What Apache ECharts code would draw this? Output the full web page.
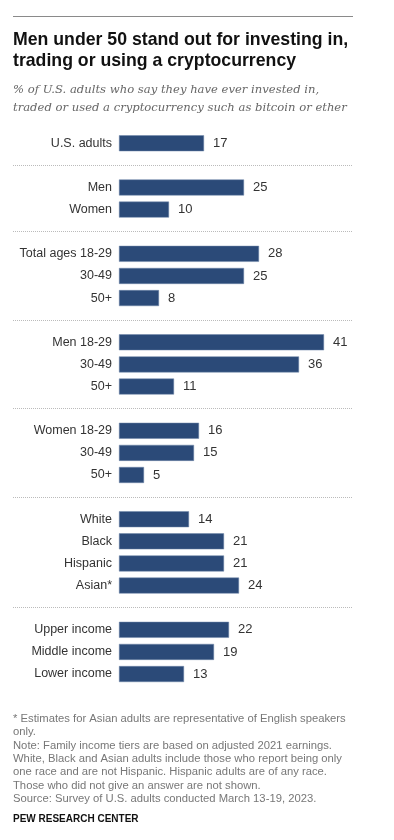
<!DOCTYPE html>
<html>
<head>
<meta charset="utf-8">
<script src="https://cdn.jsdelivr.net/npm/echarts@6/dist/echarts.min.js"></script>
<style>
html,body{margin:0;padding:0;background:#fff;}
#chart{width:394px;height:840px;}
</style>
</head>
<body>
<div id="chart"></div>
<script>
// Categories (empty strings mark group dividers)
const categories = [
  'U.S. adults', '',
  'Men', 'Women', '',
  'Total ages 18-29', '30-49', '50+', '',
  'Men 18-29', '30-49', '50+', '',
  'Women 18-29', '30-49', '50+', '',
  'White', 'Black', 'Hispanic', 'Asian*', '',
  'Upper income', 'Middle income', 'Lower income'
];
const values = [
  17, null,
  25, 10, null,
  28, 25, 8, null,
  41, 36, 11, null,
  16, 15, 5, null,
  14, 21, 21, 24, null,
  22, 19, 13
];
const dividerIndices = [1, 4, 8, 12, 16, 21];

const titleText = 'Men under 50 stand out for investing in,\ntrading or using a cryptocurrency';
const subtitleText = '% of U.S. adults who say they have ever invested in,\ntraded or used a cryptocurrency such as bitcoin or ether';
const noteText = '* Estimates for Asian adults are representative of English speakers\nonly.\nNote: Family income tiers are based on adjusted 2021 earnings.\nWhite, Black and Asian adults include those who report being only\none race and are not Hispanic. Hispanic adults are of any race.\nThose who did not give an answer are not shown.\nSource: Survey of U.S. adults conducted March 13-19, 2023.';
const sourceText = 'PEW RESEARCH CENTER';

const chart = echarts.init(document.getElementById('chart'), null, {renderer: 'canvas'});
const sans = 'Arial, "Liberation Sans", sans-serif';

const gridLeft = 13;
const xMin = -21.2;
const xMax = 46.8;
const gridWidth = 340;
// distance from grid left edge to the value-0 baseline, minus label gap
const zeroOffset = (0 - xMin) / (xMax - xMin) * gridWidth;

chart.setOption({
  animation: false,
  backgroundColor: '#ffffff',
  title: [
    {
      text: titleText, left: 13, top: 30, padding: 0,
      textStyle: {fontFamily: sans, fontWeight: 'bold', fontSize: 17.7, lineHeight: 21, color: '#111'}
    },
    {
      text: subtitleText, left: 13, top: 81.5, padding: 0,
      textStyle: {fontFamily: '"DejaVu Serif", serif', fontStyle: 'italic', fontWeight: 'normal', fontSize: 11.6, lineHeight: 17.5, color: '#666'}
    },
    {
      text: noteText, left: 13, top: 712, padding: 0,
      textStyle: {fontFamily: sans, fontWeight: 'normal', fontSize: 11.25, lineHeight: 13.4, color: '#777'}
    },
    {
      text: sourceText, left: 13, top: 814, padding: 0,
      textStyle: {fontFamily: sans, fontWeight: 'bold', fontSize: 10, color: '#111'}
    }
  ],
  graphic: [
    {type: 'line', shape: {x1: 13, y1: 16.5, x2: 353, y2: 16.5}, style: {stroke: '#8a8a8a', lineWidth: 1}}
  ],
  grid: {left: gridLeft, width: gridWidth, top: 132.2, height: 552.9, containLabel: false, outerBoundsMode: 'none'},
  xAxis: {
    type: 'value', min: xMin, max: xMax,
    axisLine: {show: false}, axisTick: {show: false}, axisLabel: {show: false}, splitLine: {show: false}
  },
  yAxis: {
    type: 'category', data: categories, inverse: true,
    axisLine: {show: false, onZero: false},
    axisTick: {show: false}, splitLine: {show: false},
    axisLabel: {fontFamily: sans, fontSize: 12.5, color: '#333', align: 'right', margin: -(zeroOffset - 7)}
  },
  series: [{
    type: 'bar', data: values, barWidth: 16,
    itemStyle: {color: '#2b4a78', borderColor: '#6f86a8', borderWidth: 0.5},
    label: {show: true, position: 'right', distance: 9, fontFamily: sans, fontSize: 13, color: '#333'},
    markLine: {
      silent: true, symbol: 'none',
      label: {show: false},
      lineStyle: {color: '#bbbbbb', type: [1, 1], width: 1},
      data: dividerIndices.map(i => ({yAxis: i}))
    }
  }]
});
</script>
</body>
</html>
